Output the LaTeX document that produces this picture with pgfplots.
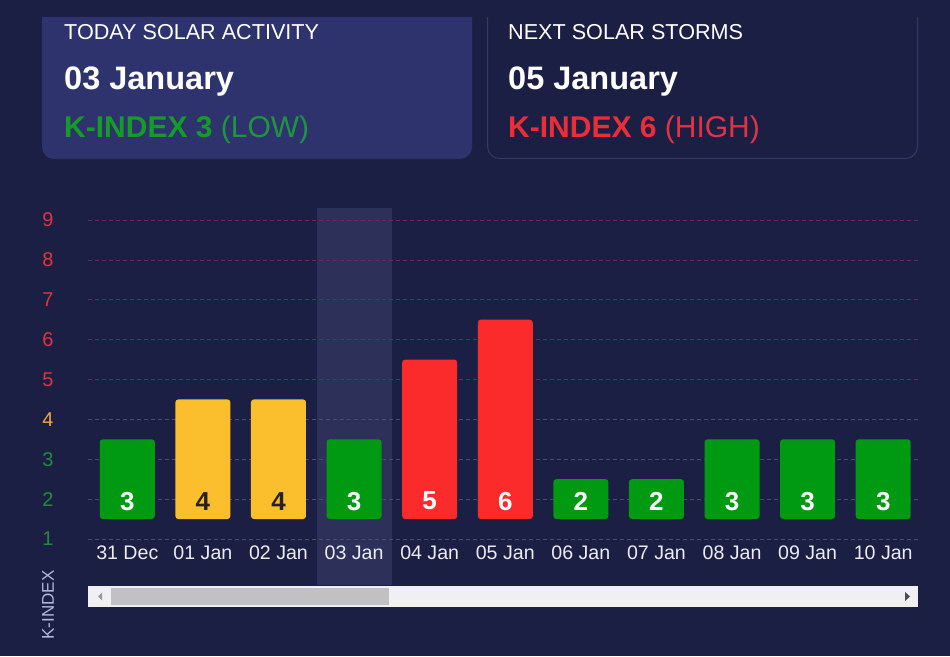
\documentclass[border=0pt]{standalone}
\usepackage{pgfplots}
\pgfplotsset{compat=1.18}
\usepackage{fontspec}
\setmainfont{Liberation Sans}
\definecolor{bg}{RGB}{28,31,68}
\definecolor{panel}{RGB}{46,51,110}
\definecolor{panelline}{RGB}{52,57,104}
\definecolor{hilite}{RGB}{45,49,89}
\definecolor{kgreen}{RGB}{0,154,18}
\definecolor{kyellow}{RGB}{251,190,45}
\definecolor{kred}{RGB}{252,43,43}
\definecolor{tgreen}{RGB}{20,155,40}
\definecolor{tgreenl}{RGB}{30,150,60}
\definecolor{tred}{RGB}{235,45,55}
\definecolor{tredl}{RGB}{222,52,70}
\definecolor{ylred}{RGB}{225,50,65}
\definecolor{ylorange}{RGB}{240,165,65}
\definecolor{ylgreen}{RGB}{30,140,60}
\definecolor{gridgray}{RGB}{72,76,112}
\definecolor{gridred}{RGB}{100,48,90}
\definecolor{xlab}{RGB}{235,236,245}
\definecolor{klab}{RGB}{180,185,220}
\definecolor{track}{RGB}{240,240,244}
\definecolor{thumb}{RGB}{193,193,193}
\definecolor{darklab}{RGB}{40,35,30}
\begin{document}
\begin{tikzpicture}
\fill[bg] (0pt,0pt) rectangle (950pt,656pt);
% panels
\fill[panel] (42pt,639pt) -- (42pt,509pt) arc[start angle=180, end angle=270, radius=12pt] -- (460pt,497pt) arc[start angle=270, end angle=360, radius=12pt] -- (472pt,639pt) -- cycle;
\draw[panelline, line width=1pt] (487.5pt,639pt) -- (487.5pt,509.5pt) arc[start angle=180, end angle=270, radius=12pt] -- (905.5pt,497.5pt) arc[start angle=270, end angle=360, radius=12pt] -- (917.5pt,639pt);
\node[anchor=base west, inner sep=0pt, text=white, font=\fontsize{21.6}{25}\selectfont] at (64pt,616pt) {TODAY SOLAR ACTIVITY};
\node[anchor=base west, inner sep=0pt, text=white, font=\bfseries\fontsize{32.5}{36}\selectfont] at (64pt,566pt) {03 January};
\node[anchor=base west, inner sep=0pt, font=\fontsize{30}{32}\selectfont] at (64pt,518pt) {\textcolor{tgreen}{\bfseries K-INDEX 3} \textcolor{tgreenl}{(LOW)}};
\node[anchor=base west, inner sep=0pt, text=white, font=\fontsize{21.6}{25}\selectfont] at (508pt,616pt) {NEXT SOLAR STORMS};
\node[anchor=base west, inner sep=0pt, text=white, font=\bfseries\fontsize{32.5}{36}\selectfont] at (508pt,566pt) {05 January};
\node[anchor=base west, inner sep=0pt, font=\fontsize{30}{32}\selectfont] at (508pt,518pt) {\textcolor{tred}{\bfseries K-INDEX 6} \textcolor{tredl}{(HIGH)}};
% highlight column for today
\fill[hilite] (317pt,71pt) rectangle (392pt,448pt);
% chart
\begin{axis}[
  at={(88pt,71pt)}, anchor=south west, scale only axis,
  width=830pt, height=377pt,
  xmin=-0.52, xmax=10.46, ymin=-1.654, ymax=7.801,
  axis line style={draw=none}, major tick length=0pt,
  xtick={0,...,10},
  xticklabels={31 Dec,01 Jan,02 Jan,03 Jan,04 Jan,05 Jan,06 Jan,07 Jan,08 Jan,09 Jan,10 Jan},
  xticklabel style={anchor=center, yshift=32pt, font=\fontsize{19.6}{19.6}\selectfont, text=xlab},
  ytick={-0.5,0.5,1.5,2.5},
  yticklabels={\textcolor{ylgreen}{1},\textcolor{ylgreen}{2},\textcolor{ylgreen}{3},\textcolor{ylorange}{4}},
  extra y ticks={3.5,4.5,5.5,6.5,7.5},
  extra y tick labels={5,6,7,8,9},
  extra y tick style={grid style={gridred, dash pattern=on 4pt off 3pt, line width=0.6pt}, yticklabel style={text=ylred}},
  yticklabel style={anchor=center, xshift=-40pt, font=\fontsize{20}{20}\selectfont},
  ymajorgrids,
  grid style={gridgray, dash pattern=on 4pt off 3pt, line width=0.6pt},
  clip=false,
]
\addplot[ybar, bar width=55pt, bar shift=0pt, fill=kgreen, draw=none, rounded corners=3pt]
  coordinates {(0,2) (3,2) (6,1) (7,1) (8,2) (9,2) (10,2)};
\addplot[ybar, bar width=55pt, bar shift=0pt, fill=kyellow, draw=none, rounded corners=3pt]
  coordinates {(1,3) (2,3)};
\addplot[ybar, bar width=55pt, bar shift=0pt, fill=kred, draw=none, rounded corners=3pt]
  coordinates {(4,4) (5,5)};
\addplot[only marks, mark=none, nodes near coords, point meta=explicit symbolic,
  nodes near coords align=center,
  nodes near coords style={text=white, font=\bfseries\fontsize{26}{26}\selectfont, inner sep=0pt}]
  coordinates {(0,0.45)[3] (3,0.45)[3] (4,0.45)[5] (5,0.45)[6] (6,0.45)[2] (7,0.45)[2] (8,0.45)[3] (9,0.45)[3] (10,0.45)[3]};
\addplot[only marks, mark=none, nodes near coords, point meta=explicit symbolic,
  nodes near coords align=center,
  nodes near coords style={text=darklab, font=\bfseries\fontsize{26}{26}\selectfont, inner sep=0pt}]
  coordinates {(1,0.45)[4] (2,0.45)[4]};
\end{axis}
% scrollbar
\fill[track] (88pt,49pt) rectangle (918pt,70pt);
\fill[thumb] (111pt,51pt) rectangle (389pt,68pt);
\fill[gray!80] (98pt,59.5pt) -- (102pt,63.5pt) -- (102pt,55.5pt) -- cycle;
\fill[black!70] (910pt,59.5pt) -- (905pt,64pt) -- (905pt,55pt) -- cycle;
% y axis title
\node[rotate=90, inner sep=0pt, text=klab, font=\fontsize{17}{17}\selectfont] at (48pt,51pt) {K-INDEX};
\end{tikzpicture}
\end{document}
